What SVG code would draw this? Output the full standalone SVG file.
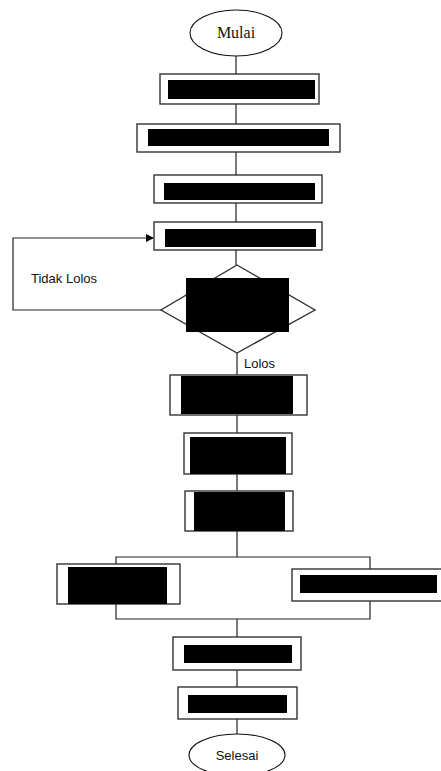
<svg xmlns="http://www.w3.org/2000/svg" width="441" height="771" viewBox="0 0 441 771">
<style>
.box{fill:#fff;stroke:#333;stroke-width:1.4}
.ink{fill:#000}
.ln{fill:none;stroke:#222;stroke-width:1.2}
.term{fill:#fff;stroke:#111;stroke-width:1.1}
.serif{font-family:"Liberation Serif","Times New Roman",serif;font-size:16px;fill:#111}
.sans{font-family:"Liberation Sans",Arial,sans-serif;font-size:13px;fill:#111}
</style>
<defs>
<marker id="arr" markerWidth="8" markerHeight="8" refX="7" refY="4" orient="auto" markerUnits="userSpaceOnUse">
<path d="M0,0 L8,4 L0,8 Z" fill="#000"/>
</marker>
</defs>
<rect width="441" height="771" fill="#fff"/>
<g id="connectors">
<path class="ln" d="M236,56 V74 M236,104 V124 M236,152 V175 M236,203 V222 M236,250 V265 M237,353 V375 M237,415 V433 M237,474 V491 M237,531 V557"/>
<path class="ln" d="M161,310 H13 V238 H153" marker-end="url(#arr)"/>
<path class="ln" d="M116,564 V557 H370 V569 M116,604 V619 H370 V601 M237,619 V637 M237,670 V687 M237,719 V734"/>
</g>
<g id="start"><ellipse class="term" cx="236" cy="33" rx="46" ry="23"/><text class="serif" x="236" y="38" text-anchor="middle">Mulai</text></g>
<g id="n1"><rect class="box" x="160" y="74" width="159" height="30"/><rect class="ink" x="168" y="80" width="147" height="19"/></g>
<g id="n2"><rect class="box" x="137" y="124" width="203" height="28"/><rect class="ink" x="148" y="129" width="181" height="17"/></g>
<g id="n3"><rect class="box" x="154" y="175" width="168" height="28"/><rect class="ink" x="164" y="183" width="151" height="17"/></g>
<g id="n4"><rect class="box" x="154" y="222" width="168" height="28"/><rect class="ink" x="165" y="229" width="151" height="18"/></g>
<g id="decision"><polygon class="box" points="237,265 315,310 237,353 161,310"/><rect class="ink" x="186" y="278" width="103" height="54"/></g>
<g id="lbl-tidak"><text class="sans" x="31" y="283">Tidak Lolos</text></g>
<g id="lbl-lolos"><text class="sans" x="244" y="368">Lolos</text></g>
<g id="n5"><rect class="box" x="170" y="375" width="137" height="40"/><rect class="ink" x="181" y="376" width="112" height="38"/></g>
<g id="n6"><rect class="box" x="184" y="433" width="108" height="41"/><rect class="ink" x="190" y="437" width="96" height="37"/></g>
<g id="n7"><rect class="box" x="185" y="491" width="108" height="40"/><rect class="ink" x="194" y="492" width="91" height="39"/></g>
<g id="n8"><rect class="box" x="57" y="564" width="123" height="40"/><rect class="ink" x="68" y="567" width="99" height="37"/></g>
<g id="n9"><rect class="box" x="292" y="569" width="155" height="32"/><rect class="ink" x="300" y="575" width="137" height="18"/></g>
<g id="n10"><rect class="box" x="173" y="637" width="128" height="33"/><rect class="ink" x="184" y="645" width="108" height="18"/></g>
<g id="n11"><rect class="box" x="178" y="687" width="119" height="32"/><rect class="ink" x="188" y="695" width="99" height="18"/></g>
<g id="end"><ellipse class="term" cx="237" cy="755" rx="48" ry="21"/><text class="sans" x="237" y="760" text-anchor="middle">Selesai</text></g>
</svg>
